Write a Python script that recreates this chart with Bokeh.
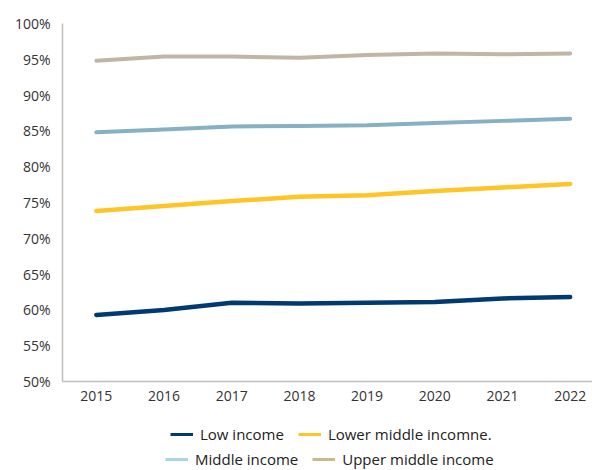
from bokeh.plotting import figure
from bokeh.layouts import column
from bokeh.models import Range1d, Legend, LegendItem, PrintfTickFormatter, FixedTicker
from bokeh.embed import file_html
from bokeh.resources import INLINE

years = [2015, 2016, 2017, 2018, 2019, 2020, 2021, 2022]
low_income = [59.3, 60.0, 61.0, 60.9, 61.0, 61.1, 61.6, 61.8]
lower_middle = [73.8, 74.5, 75.2, 75.8, 76.0, 76.6, 77.1, 77.6]
middle_income = [84.8, 85.2, 85.6, 85.7, 85.8, 86.1, 86.4, 86.7]
upper_middle = [94.8, 95.4, 95.4, 95.2, 95.6, 95.8, 95.7, 95.8]
y_ticks = [50, 55, 60, 65, 70, 75, 80, 85, 90, 95, 100]
series_names = ["Low income", "Lower middle incomne.", "Middle income", "Upper middle income"]
line_colors = ["#003A70", "#FFC425", "#86B0C4", "#C1B5A5"]
legend_colors = ["#003A70", "#FFC425", "#A9D3E6", "#C9B98C"]

FONT = "Open Sans"

p = figure(frame_width=530, frame_height=358, output_backend="svg", toolbar_location=None,
           x_range=Range1d(2014.5, 2022.33), y_range=Range1d(50, 100),
           min_border_left=62, min_border_top=23, min_border_right=0, min_border_bottom=30)
p.outline_line_color = None
p.grid.visible = False

for vals, col in zip([low_income, lower_middle, middle_income, upper_middle], line_colors):
    p.line(years, vals, line_color=col, line_width=4.5 if col in ("#003A70", "#FFC425") else 4,
           line_cap="round")

for ax in (p.xaxis[0], p.yaxis[0]):
    ax.axis_line_color = "#BFBFBF"
    ax.axis_line_width = 1.5
    ax.major_tick_line_color = None
    ax.minor_tick_line_color = None
    ax.major_label_text_font = FONT
    ax.major_label_text_font_size = "14px"
    ax.major_label_text_color = "#333333"

p.xaxis.ticker = FixedTicker(ticks=years)
p.xaxis.major_label_standoff = 3
p.yaxis.ticker = FixedTicker(ticks=y_ticks)
p.yaxis.formatter = PrintfTickFormatter(format="%d%%")
p.yaxis.major_label_standoff = 6

# separate legend strip below the chart
lf = figure(frame_width=592, frame_height=59, output_backend="svg", toolbar_location=None,
            x_range=Range1d(0, 1), y_range=Range1d(0, 1),
            min_border_left=0, min_border_right=0, min_border_top=0, min_border_bottom=0)
lf.axis.visible = False
lf.grid.visible = False
lf.outline_line_color = None
proxies = [lf.line([0, 1], [-5, -5], line_color=c, line_width=3) for c in legend_colors]

def make_legend(items, loc):
    return Legend(items=items, orientation="horizontal", location=loc,
                  label_text_font=FONT, label_text_font_size="15px", label_text_color="#222222",
                  glyph_width=23, glyph_height=18, label_height=18, label_standoff=7, spacing=14,
                  padding=0, margin=0, border_line_color=None, background_fill_alpha=0)

leg1 = make_legend([LegendItem(label=series_names[0], renderers=[proxies[0]]),
                    LegendItem(label=series_names[1], renderers=[proxies[1]])], (170, 26))
leg2 = make_legend([LegendItem(label=series_names[2], renderers=[proxies[2]]),
                    LegendItem(label=series_names[3], renderers=[proxies[3]])], (165, 1))
lf.add_layout(leg1, "center")
lf.add_layout(leg2, "center")

layout = column(p, lf, spacing=0)
open("out.html", "w").write(file_html(layout, INLINE))
